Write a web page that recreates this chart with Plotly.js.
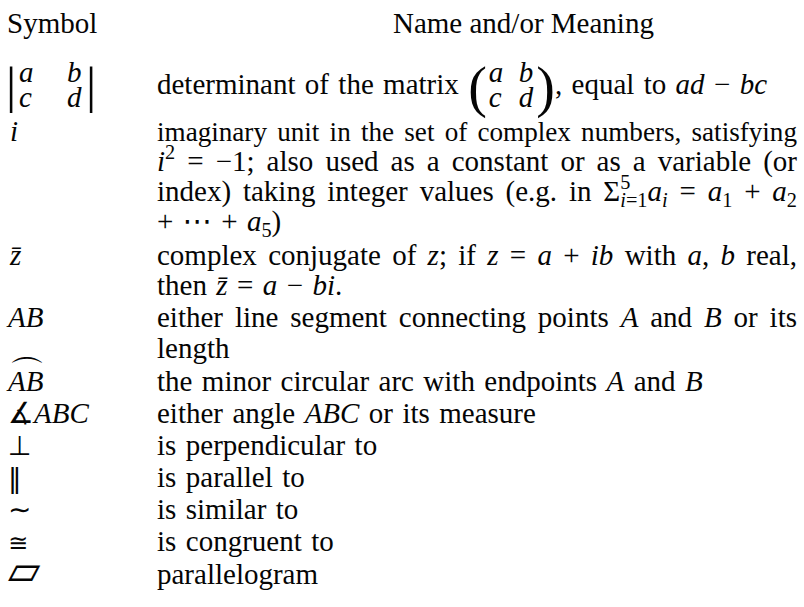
<!DOCTYPE html>
<html>
<head>
<meta charset="utf-8">
<script src="https://cdn.plot.ly/plotly-3.0.1.min.js"></script>
<style>
html,body{margin:0;padding:0;background:#ffffff;}
#chart{width:804px;height:607px;}
</style>
</head>
<body>
<div id="chart"></div>
<script>
// ---------------- data (text content of the table) ----------------
const headers = ["Symbol", "Name and/or Meaning"];

const detEntries = ["<i>a</i>", "<i>b</i>", "<i>c</i>", "<i>d</i>"];
const detMeaningBefore = "determinant of the matrix";
const detMeaningAfter = "equal to <i>ad</i> − <i>bc</i>";

const symbols = ["<i>i</i>", "<i>z̄</i>", "<i>AB</i>", "<i>AB</i>", "∡<i>ABC</i>", "⊥", "‖", "∼", "≅", "▱"];
const arcMark = "⌒";

const meanings = [
  ["imaginary unit in the set of complex numbers, satisfying",
   "<i>i</i><sup>2</sup> = −1; also used as a constant or as a variable (or",
   "index) taking integer values (e.g. in Σ<sup>5</sup><sub><i>i</i>=1</sub><i>a<sub>i</sub></i> = <i>a</i><sub>1</sub> + <i>a</i><sub>2</sub>",
   "+ ⋯ + <i>a</i><sub>5</sub>)"],
  ["complex conjugate of <i>z</i>; if <i>z</i> = <i>a</i> + <i>ib</i> with <i>a</i>, <i>b</i> real,",
   "then <i>z̄</i> = <i>a</i> − <i>bi</i>."],
  ["either line segment connecting points <i>A</i> and <i>B</i> or its",
   "length"],
  ["the minor circular arc with endpoints <i>A</i> and <i>B</i>"],
  ["either angle <i>ABC</i> or its measure"],
  ["is perpendicular to"],
  ["is parallel to"],
  ["is similar to"],
  ["is congruent to"],
  ["parallelogram"]
];

// ---------------- layout constants ----------------
const W = 804, H = 607;
const FS = 29;
const FAM = "'Liberation Serif', 'DejaVu Serif', 'DejaVu Sans', serif";
const SYMFAM = "'DejaVu Sans', 'Liberation Serif', serif";
const COLOR = "#050505";
const LEFT = 157, RIGHT = 797, DETRIGHT = 767, SYMX = 8;
const SPREAD = 1.3, MINGAP = 1.5;
const headerBase = 33;
const headerX = [7, 393];
const detBase = 94;
const detRows = [82, 107];
const lineBases = [[141,171,201,231],[265,295],[327,358],[391],[423],[455],[487],[519],[551],[584]];
const symSizes = [FS, FS, FS, FS, FS, 27, 27, 28, 24, 42];

// ---------------- text measurement ----------------
const ctx = document.createElement('canvas').getContext('2d');
function measure(html, size, family) {
  let w = 0, it = 0, sc = 0;
  const parts = html.split(/(<\/?(?:i|sup|sub)>)/);
  for (const p of parts) {
    if (!p) continue;
    if (p === '<i>') { it++; continue; }
    if (p === '</i>') { it--; continue; }
    if (p === '<sup>' || p === '<sub>') { sc++; continue; }
    if (p === '</sup>' || p === '</sub>') { sc--; continue; }
    const s = size * Math.pow(0.7, sc);
    ctx.font = (it > 0 ? 'italic ' : '') + s + 'px ' + family;
    w += ctx.measureText(p).width;
  }
  return w;
}

// ---------------- build text points ----------------
const px = [], py = [], ptxt = [], psize = [], pfam = [], ppos = [];
function put(x, base, txt, size, fam, pos) {
  px.push(x);
  py.push(base - 0.25 * size);   // plotly 'middle' text: baseline = y + 0.25*size
  ptxt.push(txt);
  psize.push(size);
  pfam.push(fam || FAM);
  ppos.push(pos || 'middle right');
}

const STACK = /^(.*?)<sup>([^<]*)<\/sup>(<sub>.*)$/;
function wordItem(tok, base, size) {
  const m = tok.match(STACK);
  const main = m ? m[1] + m[3] : tok;
  return {
    w: measure(main, size, FAM),
    draw: x => {
      put(x, base, main, size);
      if (m) put(x + measure(m[1], size, FAM), base, '<sup>' + m[2] + '</sup>', size);
    }
  };
}

function layoutItems(items, right, size) {
  const nGaps = items.filter((it, k) => k > 0 && !it.glue).length;
  const tot = items.reduce((a, it) => a + it.w, 0);
  const sp = measure(' ', size, FAM);
  const gap = (right == null || nGaps === 0) ? sp * SPREAD : (right - LEFT - tot) / nGaps;
  let x = LEFT;
  items.forEach((it, k) => { if (k > 0 && !it.glue) x += gap; it.draw(x); x += it.w; });
}

function putLine(line, base, justify) {
  const toks = line.split(' ');
  let size = FS;
  if (justify) {
    // shrink a justified line slightly if it would not fit with a normal word gap
    const tot = toks.reduce((a, t) => a + wordItem(t, base, FS).w, 0);
    const need = tot + (toks.length - 1) * measure(' ', FS, FAM) * MINGAP;
    if (need > RIGHT - LEFT) size = FS * (RIGHT - LEFT) / need;
  }
  layoutItems(toks.map(t => wordItem(t, base, size)), justify ? RIGHT : null, size);
}

// headers
headers.forEach((h, k) => put(headerX[k], headerBase, h, FS));

// determinant symbol
const BAR = 51;
put(SYMX - 2, 102, '|', BAR);
put(SYMX + 78, 102, '|', BAR);
put(SYMX + 11, detRows[0], detEntries[0], FS);
put(SYMX + 59, detRows[0], detEntries[1], FS);
put(SYMX + 11, detRows[1], detEntries[2], FS);
put(SYMX + 59, detRows[1], detEntries[3], FS);

// determinant meaning with the matrix in parentheses
(function () {
  const PAR = 56;
  const pw = measure('(', PAR, FAM);
  const colGap = 30;
  const inner = colGap + measure(detEntries[3], FS, FAM) + 3;
  const matrix = {
    w: pw + 2 + inner + pw,
    draw: x => {
      put(x, detBase + 12, '(', PAR);
      const xa = x + pw + 2;
      put(xa, detRows[0], detEntries[0], FS);
      put(xa + colGap, detRows[0], detEntries[1], FS);
      put(xa, detRows[1], detEntries[2], FS);
      put(xa + colGap, detRows[1], detEntries[3], FS);
      put(xa + inner, detBase + 12, ')', PAR);
    }
  };
  const comma = { w: measure(',', FS, FAM), glue: true, draw: x => put(x, detBase, ',', FS) };
  const items = detMeaningBefore.split(' ').map(t => wordItem(t, detBase, FS))
    .concat([matrix, comma])
    .concat(detMeaningAfter.split(' ').map(t => wordItem(t, detBase, FS)));
  layoutItems(items, DETRIGHT, FS);
})();

// other rows
symbols.forEach((s, k) => {
  const base = lineBases[k][0];
  const sz = symSizes[k];
  const fam = (k >= 5) ? SYMFAM : FAM;
  put(SYMX + (k <= 1 ? 2 : 0), base, s, sz, fam);
  if (k === 3) {
    const wAB = measure(s, FS, FAM);
    put(SYMX + wAB / 2 + 1, base - 5, arcMark, 36, SYMFAM, 'middle center');
  }
  const lines = meanings[k];
  lines.forEach((ln, j) => putLine(ln, lineBases[k][j], j < lines.length - 1));
});

const trace = {
  type: 'scatter', mode: 'text',
  x: px, y: py, text: ptxt,
  textposition: ppos,
  textfont: { family: pfam, size: psize, color: COLOR },
  hoverinfo: 'skip', showlegend: false, cliponaxis: false
};

const layout = {
  width: W, height: H, autosize: false,
  margin: { l: 0, r: 0, t: 0, b: 0, pad: 0 },
  paper_bgcolor: '#ffffff', plot_bgcolor: '#ffffff',
  xaxis: { range: [0, W], visible: false, fixedrange: true },
  yaxis: { range: [H, 0], visible: false, fixedrange: true },
  showlegend: false
};

Plotly.newPlot('chart', [trace], layout, { staticPlot: true, displayModeBar: false });
</script>
</body>
</html>
